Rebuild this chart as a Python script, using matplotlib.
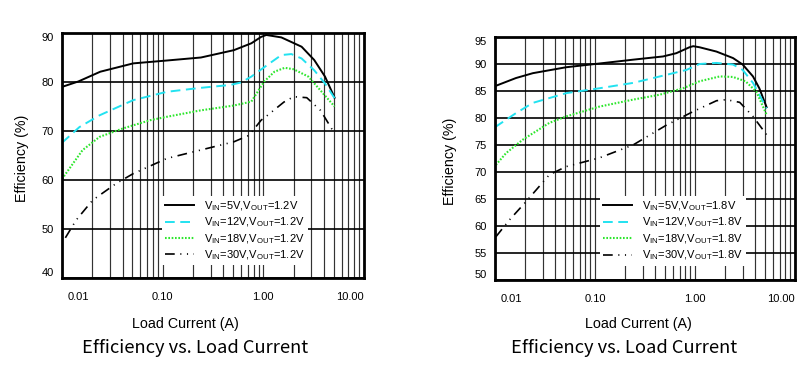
"""Efficiency vs. load current, two buck regulator operating points."""

import matplotlib

matplotlib.use("Agg")
import matplotlib.pyplot as plt
from matplotlib.ticker import FixedLocator, LogLocator, NullFormatter
from matplotlib.transforms import ScaledTranslation

plt.rcParams["font.family"] = ["Liberation Sans", "DejaVu Sans"]
plt.rcParams["mathtext.fontset"] = "custom"
plt.rcParams["mathtext.rm"] = "Liberation Sans"
plt.rcParams["mathtext.it"] = "Liberation Sans:italic"
plt.rcParams["lines.scale_dashes"] = False

# ---- data: left chart, VOUT = 1.2 V ----
i_5v_12 = [0.01, 0.0145, 0.024, 0.051, 0.112, 0.24, 0.51, 0.76, 0.95, 1.07, 1.51, 2.4, 3.2, 4.1, 5.1]
e_5v_12 = [79.0, 80.1, 82.1, 83.8, 84.4, 85.0, 86.5, 87.9, 89.2, 89.6, 89.1, 87.2, 84.5, 81.1, 76.8]

i_12v_12 = [0.01, 0.0149, 0.0236, 0.051, 0.11, 0.237, 0.47, 0.6, 0.76, 1.1, 1.51, 1.9, 2.4, 3.2, 4.1, 5.1]
e_12v_12 = [67.6, 70.8, 73.2, 76.3, 78.0, 78.8, 79.4, 79.9, 81.1, 83.5, 85.5, 85.7, 84.8, 82.4, 79.7, 76.7]

i_18v_12 = [0.01, 0.0128, 0.016, 0.0236, 0.04, 0.075, 0.11, 0.237, 0.51, 0.76, 1.02, 1.29, 1.63, 2.0, 2.8, 3.8, 5.1]
e_18v_12 = [60.2, 63.3, 66.1, 68.8, 70.5, 72.2, 72.9, 74.2, 75.2, 76.0, 80.1, 82.1, 82.9, 82.6, 81.1, 78.0, 75.0]

i_30v_12 = [0.0108, 0.0138, 0.0202, 0.0346, 0.051, 0.11, 0.237, 0.51, 0.72, 0.95, 1.1, 1.6, 2.0, 2.7, 3.7, 5.1]
e_30v_12 = [48.2, 51.8, 55.9, 59.3, 61.3, 64.4, 66.1, 67.8, 69.1, 72.2, 73.2, 75.9, 77.0, 76.8, 74.2, 69.5]

# ---- data: right chart, VOUT = 1.8 V ----
i_5v_18 = [0.01, 0.0162, 0.0239, 0.0515, 0.1, 0.24, 0.48, 0.65, 0.88, 0.96, 1.11, 1.64, 2.4, 3.0, 3.8, 4.4, 5.2]
e_5v_18 = [85.9, 87.4, 88.3, 89.4, 90.0, 90.8, 91.4, 92.0, 93.1, 93.3, 93.1, 92.3, 91.1, 89.9, 87.7, 85.5, 82.0]

i_12v_18 = [0.01, 0.0162, 0.0239, 0.0515, 0.11, 0.24, 0.52, 0.82, 1.11, 1.64, 2.4, 3.0, 3.8, 5.2]
e_12v_18 = [78.3, 80.9, 82.8, 84.6, 85.5, 86.5, 88.0, 88.9, 90.0, 90.2, 89.9, 88.9, 86.5, 81.8]

i_18v_18 = [0.0102, 0.0129, 0.019, 0.035, 0.0515, 0.11, 0.24, 0.44, 0.76, 1.11, 1.77, 2.4, 3.2, 4.1, 5.2]
e_18v_18 = [71.3, 73.5, 76.0, 79.1, 80.3, 82.1, 83.4, 84.3, 85.5, 86.8, 87.7, 87.6, 86.8, 84.9, 80.6]

i_30v_18 = [0.0102, 0.0139, 0.0204, 0.035, 0.0515, 0.11, 0.24, 0.52, 0.96, 1.64, 2.05, 2.8, 3.8, 5.2]
e_30v_18 = [58.0, 61.1, 64.5, 69.5, 71.0, 72.6, 75.0, 78.7, 81.2, 83.2, 83.4, 82.9, 80.3, 76.9]

x_ticks = [0.01, 0.1, 1, 10]
x_tick_labels = ["0.01", "0.10", "1.00", "10.00"]
left_y_ticks = [40, 50, 60, 70, 80, 90]
right_y_ticks = [50, 55, 60, 65, 70, 75, 80, 85, 90, 95]

STYLES = [
    dict(color="black", linestyle="-", linewidth=1.4),
    dict(color="#22e2f0", dashes=(7, 4), linewidth=1.4),
    dict(color="#2ee62e", dashes=(1.2, 1.2), linewidth=1.5),
    dict(color="black", dashes=(7, 4, 0.8, 4, 0.8, 4), linewidth=1.2),
]


def draw_panel(fig, rect, series, vout, y_ticks, ylabel_x, legend_anchor):
    ax = fig.add_axes(rect)
    for (cur, eff, vin), style in zip(series, STYLES):
        label = rf"V$_\mathrm{{IN}}$={vin}V,V$_\mathrm{{OUT}}$={vout}V"
        ax.plot(cur, eff, label=label, **style)

    ax.set_xscale("log")
    ax.set_xlim(0.01, 10)
    ax.set_ylim(y_ticks[0], y_ticks[-1])
    ax.xaxis.set_major_locator(FixedLocator(x_ticks))
    ax.set_xticklabels(x_tick_labels)
    ax.xaxis.set_minor_locator(LogLocator(base=10, subs=range(2, 10)))
    ax.xaxis.set_minor_formatter(NullFormatter())
    ax.set_yticks(y_ticks)
    ax.tick_params(axis="both", which="both", length=0, labelsize=8)
    ax.tick_params(axis="x", pad=10)
    ax.tick_params(axis="y", pad=6)

    ax.grid(axis="x", which="both", color="#333333", linewidth=0.85)
    ax.grid(axis="y", which="major", color="black", linewidth=1.2)
    for spine in ax.spines.values():
        spine.set_linewidth(2)

    # end labels sit inside the frame, as in the datasheet
    xt = ax.xaxis.get_major_ticks()
    xt[0].label1.set_ha("left")
    xt[0].label1.set_transform(xt[0].label1.get_transform()
                               + ScaledTranslation(4 / 72, 0, fig.dpi_scale_trans))
    xt[-1].label1.set_ha("right")
    yt = ax.yaxis.get_major_ticks()
    yt[0].label1.set_va("bottom")
    yt[-1].label1.set_va("top")

    ax.set_ylabel("Efficiency (%)", fontsize=10.3)
    ax.yaxis.set_label_coords(ylabel_x, 0.49)

    leg = ax.legend(loc="upper left", bbox_to_anchor=legend_anchor, fontsize=8,
                    frameon=True, fancybox=False, framealpha=1, edgecolor="none",
                    handlelength=2.6, handletextpad=0.9, labelspacing=0.25,
                    borderpad=0.3, borderaxespad=0)
    leg.get_frame().set_facecolor("white")
    return ax


fig = plt.figure(figsize=(8.12, 3.74), dpi=100)
W, H = 812, 374

left_series = [(i_5v_12, e_5v_12, 5), (i_12v_12, e_12v_12, 12),
               (i_18v_12, e_18v_12, 18), (i_30v_12, e_30v_12, 30)]
right_series = [(i_5v_18, e_5v_18, 5), (i_12v_18, e_12v_18, 12),
                (i_18v_18, e_18v_18, 18), (i_30v_18, e_30v_18, 30)]

draw_panel(fig, [62 / W, 1 - 278 / H, 302 / W, 245 / H], left_series, "1.2",
           left_y_ticks, -0.109, (0.33, 0.335))
draw_panel(fig, [495 / W, 1 - 280 / H, 300 / W, 243 / H], right_series, "1.8",
           right_y_ticks, -0.127, (0.35, 0.345))

for cx_label, cx_title in [(185, 195), (638, 624)]:
    fig.text(cx_label / W, 1 - 324 / H, "Load Current (A)", ha="center", va="center",
             fontsize=10.3)
    fig.text(cx_title / W, 1 - 348 / H, "Efficiency vs. Load Current", ha="center",
             va="center", fontsize=13.2, family=["Noto Sans CJK SC", "DejaVu Sans"])

fig.savefig("out.png", dpi=100)
